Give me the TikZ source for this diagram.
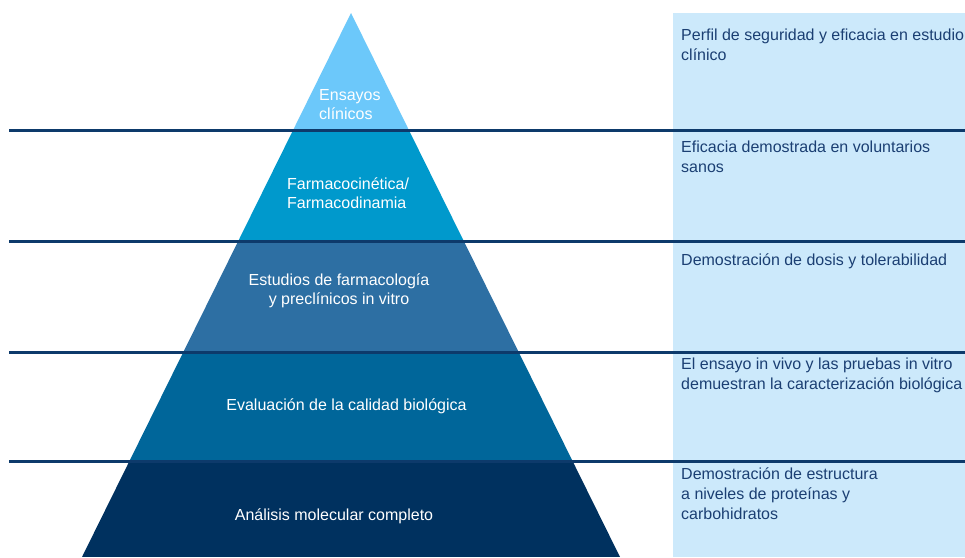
\documentclass[tikz,border=0pt]{standalone}
\usepackage{fontspec}
\setmainfont{Liberation Sans}
\definecolor{bandA}{HTML}{6CC8FA}
\definecolor{bandB}{HTML}{0099CC}
\definecolor{bandC}{HTML}{2D6FA3}
\definecolor{bandD}{HTML}{00669A}
\definecolor{bandE}{HTML}{00315F}
\definecolor{panelbg}{HTML}{CCE9FB}
\definecolor{rulecol}{HTML}{0D3A6B}
\definecolor{paneltext}{HTML}{1B3F73}
\begin{document}
\begin{tikzpicture}[x=1pt,y=-1pt,
  sep/.style={draw=rulecol,line width=3pt},
  pyrtext/.style={text=white,font=\fontsize{16}{19}\selectfont,inner sep=0pt},
  paneltxt/.style={text=paneltext,font=\fontsize{16}{20}\selectfont,inner sep=0pt,anchor=base west,align=left}]
\useasboundingbox (0,0) rectangle (965,557);
\fill[white] (0,0) rectangle (965,557);
% right panel
\fill[panelbg] (673,13) rectangle (965,557);
% pyramid
\coordinate (apex) at (351,13);
\coordinate (bl) at (82,557);
\coordinate (br) at (620,557);
\begin{scope}
  \clip (apex) -- (bl) -- (br) -- cycle;
  \fill[bandA] (0,0) rectangle (965,130);
  \fill[bandB] (0,130) rectangle (965,241);
  \fill[bandC] (0,241) rectangle (965,352);
  \fill[bandD] (0,352) rectangle (965,461);
  \fill[bandE] (0,461) rectangle (965,557);
\end{scope}
% separator lines
\foreach \yy/\nm in {130.5/a,241/b,352/c,461.5/d}{
  \coordinate (L\nm) at (9,\yy);
  \coordinate (R\nm) at (965,\yy);
  \draw[sep] (L\nm) -- (R\nm);
}
% pyramid labels (anchor = baseline of last line)
\node[pyrtext,anchor=base west,align=left] (t1) at (319,119) {Ensayos\\clínicos};
\node[pyrtext,anchor=base west,align=left] (t2) at (287,208) {Farmacocinética/\\Farmacodinamia};
\node[pyrtext,anchor=base,align=center] (t3) at (339,304) {Estudios de farmacología\\y preclínicos in vitro};
\node[pyrtext,anchor=base] (t4) at (346.5,410) {Evaluación de la calidad biológica};
\node[pyrtext,anchor=base] (t5) at (334,520) {Análisis molecular completo};
% panel texts (anchor = baseline of last line)
\node[paneltxt] (p1) at (681,60) {Perfil de seguridad y eficacia en estudio\\clínico};
\node[paneltxt] (p2) at (681,172) {Eficacia demostrada en voluntarios\\sanos};
\node[paneltxt] (p3) at (681,265) {Demostración de dosis y tolerabilidad};
\node[paneltxt] (p4) at (681,389) {El ensayo in vivo y las pruebas in vitro\\demuestran la caracterización biológica};
\node[paneltxt] (p5) at (681,519) {Demostración de estructura\\a niveles de proteínas y\\carbohidratos};
\end{tikzpicture}
\end{document}
